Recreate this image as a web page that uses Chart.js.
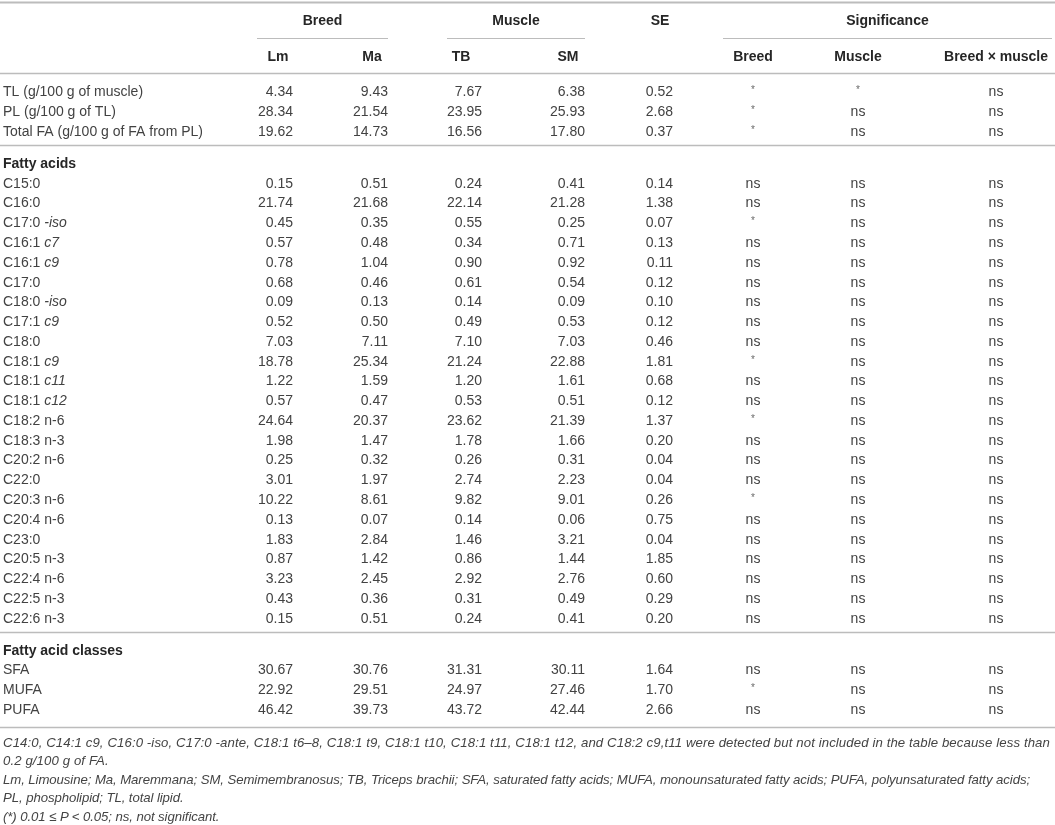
<!DOCTYPE html>
<html>
<head>
<meta charset="utf-8">
<script src="https://cdn.jsdelivr.net/npm/chart.js@4.4.1/dist/chart.umd.min.js"></script>
<style>
  html, body { margin: 0; padding: 0; background: #ffffff; }
  #wrap { position: relative; width: 1055px; height: 825px; overflow: hidden; }
  #tbl { position: absolute; left: 0; top: 0; }
  #notes { position: absolute; left: 3px; top: 733.5px; width: 1052px;
           font-family: "Liberation Sans", Arial, sans-serif; font-style: italic;
           font-size: 13.2px; line-height: 18.6px; color: #444444; white-space: nowrap; }
  #notes span { display: inline-block; }
</style>
</head>
<body>
<div id="wrap">
  <canvas id="tbl" width="1055" height="825"></canvas>
  <div id="notes">
    <div><span data-w="1047" data-p="a">C14:0, C14:1 c9, C16:0 -iso, C17:0 -ante, C18:1 t6–8, C18:1 t9, C18:1 t10, C18:1 t11, C18:1 t12, and C18:2 c9,t11 were detected but not included in the table because less than</span></div>
    <div><span data-p="a">0.2 g/100 g of FA.</span></div>
    <div><span data-w="1027" data-p="b">Lm, Limousine; Ma, Maremmana; SM, Semimembranosus; TB, Triceps brachii; SFA, saturated fatty acids; MUFA, monounsaturated fatty acids; PUFA, polyunsaturated fatty acids;</span></div>
    <div><span data-p="b">PL, phospholipid; TL, total lipid.</span></div>
    <div><span data-p="b">(*) 0.01 ≤ P &lt; 0.05; ns, not significant.</span></div>
  </div>
</div>
<script>
// ---------------- DATA ----------------
const sectionTitles = [null, 'Fatty acids', 'Fatty acid classes'];
const sectionSizes  = [3, 23, 3];

// {...} marks italic text
const rowLabels = [
  'TL (g/100 g of muscle)', 'PL (g/100 g of TL)', 'Total FA (g/100 g of FA from PL)',
  'C15:0', 'C16:0', 'C17:0 {-iso}', 'C16:1 {c7}', 'C16:1 {c9}', 'C17:0', 'C18:0 {-iso}',
  'C17:1 {c9}', 'C18:0', 'C18:1 {c9}', 'C18:1 {c11}', 'C18:1 {c12}', 'C18:2 n-6', 'C18:3 n-3',
  'C20:2 n-6', 'C22:0', 'C20:3 n-6', 'C20:4 n-6', 'C23:0', 'C20:5 n-3', 'C22:4 n-6',
  'C22:5 n-3', 'C22:6 n-3',
  'SFA', 'MUFA', 'PUFA'
];

const groupHeaders = ['Breed', 'Muscle', 'SE', 'Significance'];
const valueColumns = ['Lm', 'Ma', 'TB', 'SM', 'SE'];
const sigColumns   = ['Breed', 'Muscle', 'Breed × muscle'];

const lm = [4.34, 28.34, 19.62,
  0.15, 21.74, 0.45, 0.57, 0.78, 0.68, 0.09, 0.52, 7.03, 18.78, 1.22, 0.57, 24.64, 1.98,
  0.25, 3.01, 10.22, 0.13, 1.83, 0.87, 3.23, 0.43, 0.15,
  30.67, 22.92, 46.42];
const ma = [9.43, 21.54, 14.73,
  0.51, 21.68, 0.35, 0.48, 1.04, 0.46, 0.13, 0.50, 7.11, 25.34, 1.59, 0.47, 20.37, 1.47,
  0.32, 1.97, 8.61, 0.07, 2.84, 1.42, 2.45, 0.36, 0.51,
  30.76, 29.51, 39.73];
const tb = [7.67, 23.95, 16.56,
  0.24, 22.14, 0.55, 0.34, 0.90, 0.61, 0.14, 0.49, 7.10, 21.24, 1.20, 0.53, 23.62, 1.78,
  0.26, 2.74, 9.82, 0.14, 1.46, 0.86, 2.92, 0.31, 0.24,
  31.31, 24.97, 43.72];
const sm = [6.38, 25.93, 17.80,
  0.41, 21.28, 0.25, 0.71, 0.92, 0.54, 0.09, 0.53, 7.03, 22.88, 1.61, 0.51, 21.39, 1.66,
  0.31, 2.23, 9.01, 0.06, 3.21, 1.44, 2.76, 0.49, 0.41,
  30.11, 27.46, 42.44];
const se = [0.52, 2.68, 0.37,
  0.14, 1.38, 0.07, 0.13, 0.11, 0.12, 0.10, 0.12, 0.46, 1.81, 0.68, 0.12, 1.37, 0.20,
  0.04, 0.04, 0.26, 0.75, 0.04, 1.85, 0.60, 0.29, 0.20,
  1.64, 1.70, 2.66];
const sigBreed = ['*', '*', '*',
  'ns', 'ns', '*', 'ns', 'ns', 'ns', 'ns', 'ns', 'ns', '*', 'ns', 'ns', '*', 'ns',
  'ns', 'ns', '*', 'ns', 'ns', 'ns', 'ns', 'ns', 'ns',
  'ns', '*', 'ns'];
const sigMuscle = ['*', 'ns', 'ns',
  'ns', 'ns', 'ns', 'ns', 'ns', 'ns', 'ns', 'ns', 'ns', 'ns', 'ns', 'ns', 'ns', 'ns',
  'ns', 'ns', 'ns', 'ns', 'ns', 'ns', 'ns', 'ns', 'ns',
  'ns', 'ns', 'ns'];
const sigInteraction = ['ns', 'ns', 'ns',
  'ns', 'ns', 'ns', 'ns', 'ns', 'ns', 'ns', 'ns', 'ns', 'ns', 'ns', 'ns', 'ns', 'ns',
  'ns', 'ns', 'ns', 'ns', 'ns', 'ns', 'ns', 'ns', 'ns',
  'ns', 'ns', 'ns'];

// ---------------- LAYOUT (table geometry, in table units) ----------------
const TABLE_W = 1055, TABLE_H = 825;
const ROW_H = 19.77, FIRST_ROW = 92.5;       // row pitch and first body row
const SECTION_GAP = 1.62, RULE_AFTER = 0.66, BOTTOM_RULE = 0.84;
const HEADER = { topRule: -4.6, group: -3.6, underline: -2.78, sub: -1.78, rule: -0.98 };
const COL = {
  label: 3,
  right: { Lm: 293, Ma: 388, TB: 482, SM: 585, SE: 673 },
  head:  { Lm: 278, Ma: 372, TB: 461, SM: 568 },
  sig:   { 'Breed': 753, 'Muscle': 858, 'Breed × muscle': 996 },
  group: { 'Breed': [257, 388], 'Muscle': [447, 585], 'SE': [660, 660], 'Significance': [723, 1052] }
};
const FONT = '"Liberation Sans", Arial, sans-serif';
const TXT = '#424242', HEAD = '#262626', RULE = '#bcbcbc';

// row slot positions (computed from section structure)
const rowSlot = [], titleSlot = [], ruleSlot = [];
(function () {
  let s = 0, idx = 0;
  sectionSizes.forEach((n, k) => {
    if (k > 0) { ruleSlot.push(s - 1 + RULE_AFTER); titleSlot.push(s - 1 + SECTION_GAP); s = s - 1 + SECTION_GAP + 1; }
    else titleSlot.push(null);
    for (let i = 0; i < n; i++) { rowSlot[idx++] = s; s += 1; }
  });
  ruleSlot.push(s - 1 + BOTTOM_RULE);
})();

const columnArrays = { Lm: lm, Ma: ma, TB: tb, SM: sm, SE: se };
const sigArrays = { 'Breed': sigBreed, 'Muscle': sigMuscle, 'Breed × muscle': sigInteraction };

const datasets = [];
valueColumns.forEach(c => datasets.push({
  label: c, kind: 'num', values: columnArrays[c],
  data: columnArrays[c].map((v, i) => ({ x: COL.right[c], y: rowSlot[i] })),
  pointRadius: 0
}));
sigColumns.forEach(c => datasets.push({
  label: c, kind: 'sig', values: sigArrays[c],
  data: sigArrays[c].map((v, i) => ({ x: COL.sig[c], y: rowSlot[i] })),
  pointRadius: 0
}));
datasets.push({
  label: 'rows', kind: 'label', values: rowLabels,
  data: rowLabels.map((v, i) => ({ x: COL.label, y: rowSlot[i] })),
  pointRadius: 0
});

function drawRich(ctx, str, x, y, size, weight) {
  const parts = str.split(/(\{[^}]*\})/).filter(p => p.length);
  let cx = x;
  parts.forEach(p => {
    const it = p.startsWith('{');
    const t = it ? p.slice(1, -1) : p;
    ctx.font = (it ? 'italic ' : '') + (weight || '') + ' ' + size + 'px ' + FONT;
    ctx.fillText(t, cx, y);
    cx += ctx.measureText(t).width;
  });
}

const tablePlugin = {
  id: 'tableText',
  afterDatasetsDraw(chart) {
    const { ctx, scales: { x, y } } = chart;
    const px = v => x.getPixelForValue(v), py = v => y.getPixelForValue(v);
    ctx.save();
    ctx.textBaseline = 'middle';

    // rules
    ctx.strokeStyle = RULE;
    const hline = (yy, x0, x1, w) => {
      ctx.lineWidth = w; ctx.beginPath();
      ctx.moveTo(px(x0), Math.round(py(yy)) + 0.5); ctx.lineTo(px(x1), Math.round(py(yy)) + 0.5); ctx.stroke();
    };
    hline(HEADER.topRule, 0, TABLE_W, 2);
    hline(HEADER.rule, 0, TABLE_W, 1.5);
    ruleSlot.forEach(s => hline(s, 0, TABLE_W, 1.5));
    ['Breed', 'Muscle', 'Significance'].forEach(g => hline(HEADER.underline, COL.group[g][0], COL.group[g][1], 1.2));

    // headers
    ctx.fillStyle = HEAD;
    ctx.textAlign = 'center';
    ctx.font = 'bold 14px ' + FONT;
    groupHeaders.forEach(g => {
      const [a, b] = COL.group[g];
      ctx.fillText(g, px((a + b) / 2), py(HEADER.group));
    });
    ['Lm', 'Ma', 'TB', 'SM'].forEach(c => ctx.fillText(c, px(COL.head[c]), py(HEADER.sub)));
    sigColumns.forEach(c => ctx.fillText(c, px(COL.sig[c]), py(HEADER.sub)));

    // section titles
    ctx.textAlign = 'left';
    sectionTitles.forEach((t, k) => {
      if (!t) return;
      ctx.font = 'bold 14px ' + FONT;
      ctx.fillText(t, px(COL.label), py(titleSlot[k]));
    });

    // cells from dataset elements
    chart.data.datasets.forEach((ds, di) => {
      const meta = chart.getDatasetMeta(di);
      meta.data.forEach((el, i) => {
        const v = ds.values[i];
        ctx.fillStyle = TXT;
        if (ds.kind === 'num') {
          ctx.textAlign = 'right';
          ctx.font = '14px ' + FONT;
          ctx.fillText(v.toFixed(2), el.x, el.y);
        } else if (ds.kind === 'sig') {
          ctx.textAlign = 'center';
          if (v === '*') { ctx.font = '10px ' + FONT; ctx.fillStyle = '#6a6a6a'; ctx.fillText('*', el.x, el.y - 2); }
          else { ctx.font = '14px ' + FONT; ctx.fillText(v, el.x, el.y); }
        } else {
          ctx.textAlign = 'left';
          drawRich(ctx, v, el.x, el.y, 14, '');
        }
      });
    });
    ctx.restore();
  }
};

new Chart(document.getElementById('tbl'), {
  type: 'scatter',
  data: { datasets },
  options: {
    responsive: false,
    animation: false,
    events: [],
    layout: { padding: 0 },
    plugins: { legend: { display: false }, tooltip: { enabled: false } },
    scales: {
      x: { type: 'linear', display: false, min: 0, max: TABLE_W },
      y: { type: 'linear', display: false, reverse: true,
           min: -FIRST_ROW / ROW_H, max: (TABLE_H - FIRST_ROW) / ROW_H }
    }
  },
  plugins: [tablePlugin]
});

// fit each footnote paragraph's first line to its width in the reference layout,
// and give the paragraph's other lines the same letter spacing
const spacing = {};
document.querySelectorAll('#notes span[data-w]').forEach(sp => {
  const target = parseFloat(sp.dataset.w);
  const w = sp.getBoundingClientRect().width;
  spacing[sp.dataset.p] = (target - w) / sp.textContent.length;
});
document.querySelectorAll('#notes span').forEach(sp => {
  sp.style.letterSpacing = (spacing[sp.dataset.p] || 0).toFixed(3) + 'px';
});
</script>
</body>
</html>
